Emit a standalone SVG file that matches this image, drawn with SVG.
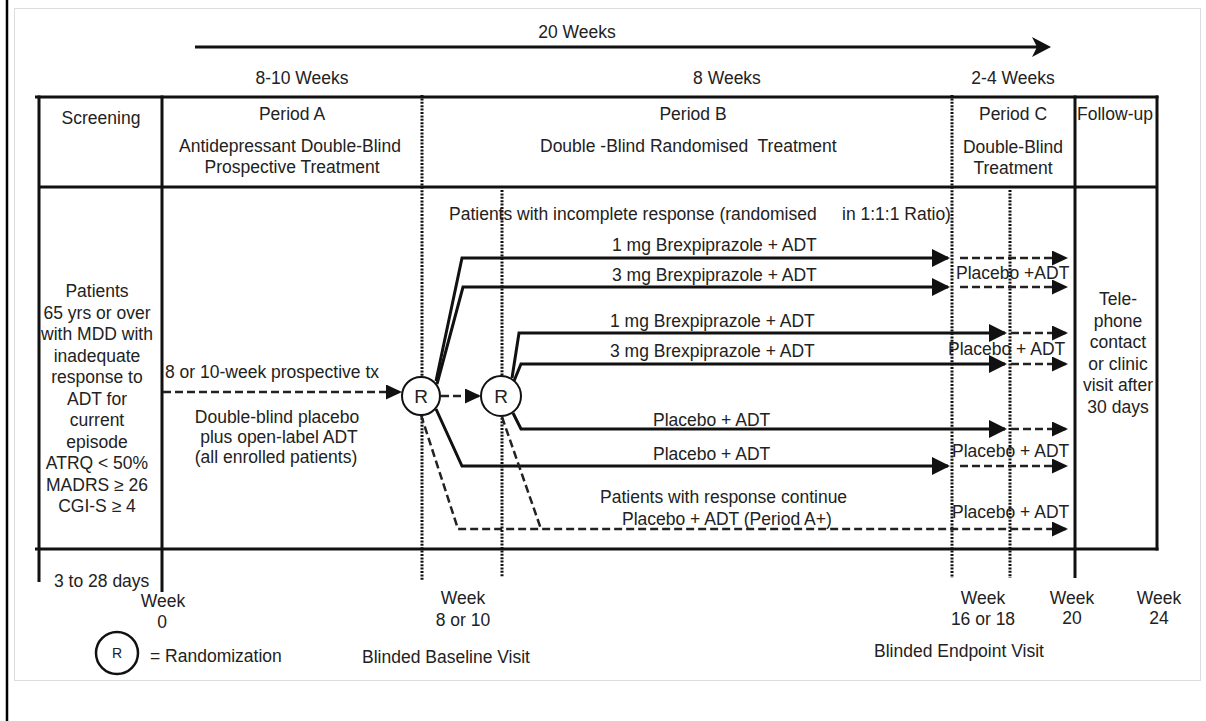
<svg xmlns="http://www.w3.org/2000/svg" width="1206" height="721" viewBox="0 0 1206 721">
<style>
text{font-family:"Liberation Sans",Arial,sans-serif;font-size:17.5px;fill:#222}
.c{text-anchor:middle}
.thick{stroke:#111;stroke-width:3;fill:none}
.dot{stroke:#111;stroke-width:3;stroke-dasharray:2 1.4;fill:none}
.arr{stroke:#111;stroke-width:3;fill:none}
.dash{stroke:#222;stroke-width:2.5;stroke-dasharray:8 4;fill:none}
.rc{fill:#fff;stroke:#111;stroke-width:2}
</style>
<defs>
<marker id="big" markerUnits="userSpaceOnUse" markerWidth="18" markerHeight="18" refX="16" refY="9" orient="auto"><path d="M0,0 L18,9 L0,18 z" fill="#111"/></marker>
<marker id="med" markerUnits="userSpaceOnUse" markerWidth="16" markerHeight="16" refX="14" refY="7.5" orient="auto"><path d="M0,0 L16,7.5 L0,15 z" fill="#111"/></marker>
</defs>
<rect width="1206" height="721" fill="#fff"/>
<rect x="14.5" y="8.5" width="1186" height="672" fill="none" stroke="#ddd"/>
<line x1="7" y1="0" x2="7" y2="721" stroke="#000" stroke-width="2.5"/>

<g id="timeline">
<line class="thick" x1="195" y1="47" x2="1040" y2="47" stroke-width="3.5"/>
<path d="M1032,37 L1051,47 L1032,57 L1037,47 z" fill="#111"/>
<text class="c" x="577" y="38">20 Weeks</text>
<text class="c" x="302" y="84">8-10 Weeks</text>
<text class="c" x="727" y="84">8 Weeks</text>
<text class="c" x="1013" y="84">2-4 Weeks</text>
</g>

<g id="grid">
<line class="thick" x1="35" y1="97" x2="1158.5" y2="97"/>
<line class="thick" x1="39" y1="187" x2="1157" y2="187"/>
<line class="thick" x1="35" y1="549" x2="1158.5" y2="549"/>
<line class="thick" x1="39" y1="95.5" x2="39" y2="582"/>
<line class="thick" x1="162" y1="95.5" x2="162" y2="592"/>
<line class="thick" x1="1075" y1="95.5" x2="1075" y2="578"/>
<line class="thick" x1="1157" y1="95.5" x2="1157" y2="550.5"/>
<line class="dot" x1="422" y1="95" x2="422" y2="580"/>
<line class="dot" x1="502" y1="190" x2="502" y2="577"/>
<line class="dot" x1="952" y1="95" x2="952" y2="578"/>
<line class="dot" x1="1010" y1="190" x2="1010" y2="578"/>
</g>

<g id="connectors">
<polyline class="arr" points="436,381 462,258 948,258" marker-end="url(#big)"/>
<polyline class="arr" points="437,384 463,287 948,287" marker-end="url(#big)"/>
<polyline class="arr" points="512,378 519,333 1005,333" marker-end="url(#big)"/>
<polyline class="arr" points="514,381 521,364 1005,364" marker-end="url(#big)"/>
<polyline class="arr" points="513,413 521,429 1005,429" marker-end="url(#big)"/>
<polyline class="arr" points="436,409 462,466 948,466" marker-end="url(#big)"/>
<line class="dash" x1="163" y1="392" x2="400" y2="392" marker-end="url(#med)"/>
<line class="dash" x1="441" y1="396" x2="479" y2="396" marker-end="url(#med)"/>
<polyline class="dash" points="421,415 458,529 1066,529" marker-end="url(#med)"/>
<polyline class="dash" points="502,417 541,529"/>
<line class="dash" x1="960" y1="258" x2="1066" y2="258" marker-end="url(#med)"/>
<line class="dash" x1="960" y1="287" x2="1066" y2="287" marker-end="url(#med)"/>
<line class="dash" x1="1011" y1="333" x2="1066" y2="333" marker-end="url(#med)"/>
<line class="dash" x1="1011" y1="364" x2="1066" y2="364" marker-end="url(#med)"/>
<line class="dash" x1="1011" y1="429" x2="1066" y2="429" marker-end="url(#med)"/>
<line class="dash" x1="960" y1="466" x2="1066" y2="466" marker-end="url(#med)"/>
</g>

<g id="screening">
<text class="c" x="101" y="124">Screening</text>
<text class="c" x="97" y="297">Patients</text>
<text class="c" x="97" y="318.5">65 yrs or over</text>
<text class="c" x="97" y="340">with MDD with</text>
<text class="c" x="97" y="361.5">inadequate</text>
<text class="c" x="97" y="383">response to</text>
<text class="c" x="97" y="404.5">ADT for</text>
<text class="c" x="97" y="426">current</text>
<text class="c" x="97" y="447.5">episode</text>
<text class="c" x="97" y="469">ATRQ &lt; 50%</text>
<text class="c" x="97" y="490.5">MADRS ≥ 26</text>
<text class="c" x="97" y="512">CGI-S ≥ 4</text>
</g>

<g id="periodA">
<text class="c" x="292" y="120">Period A</text>
<text class="c" x="290" y="152">Antidepressant Double-Blind</text>
<text class="c" x="292" y="173">Prospective Treatment</text>
<text x="165" y="378">8 or 10-week prospective tx</text>
<text class="c" x="277" y="423">Double-blind placebo</text>
<text class="c" x="279" y="443">plus open-label ADT</text>
<text class="c" x="276" y="463">(all enrolled patients)</text>
</g>

<g id="periodB">
<text class="c" x="693" y="120">Period B</text>
<text x="540" y="152" xml:space="preserve">Double -Blind Randomised  Treatment</text>
<text x="449" y="220">Patients with incomplete response (randomised<tspan x="842">in 1:1:1 Ratio)</tspan></text>
<text x="612" y="251">1 mg Brexpiprazole + ADT</text>
<text x="612" y="281">3 mg Brexpiprazole + ADT</text>
<text x="610" y="327">1 mg Brexpiprazole + ADT</text>
<text x="610" y="357">3 mg Brexpiprazole + ADT</text>
<text x="653" y="426">Placebo + ADT</text>
<text x="653" y="460">Placebo + ADT</text>
<text x="600" y="503">Patients with response continue</text>
<text x="622" y="525">Placebo + ADT (Period A+)</text>
</g>

<g id="periodC">
<text class="c" x="1013" y="120">Period C</text>
<text class="c" x="1013" y="153">Double-Blind</text>
<text class="c" x="1013" y="174">Treatment</text>
<text x="956" y="279">Placebo +ADT</text>
<text x="948" y="355">Placebo + ADT</text>
<text x="952" y="457">Placebo + ADT</text>
<text x="952" y="518">Placebo + ADT</text>
</g>

<g id="followup">
<text class="c" x="1115" y="120">Follow-up</text>
<text class="c" x="1118" y="305">Tele-</text>
<text class="c" x="1118" y="326.5">phone</text>
<text class="c" x="1118" y="348">contact</text>
<text class="c" x="1118" y="369.5">or clinic</text>
<text class="c" x="1118" y="391">visit after</text>
<text class="c" x="1118" y="412.5">30 days</text>
</g>

<g id="R1">
<circle class="rc" cx="421" cy="396" r="19"/>
<text class="c" x="421" y="403" style="font-size:19px">R</text>
</g>
<g id="R2">
<circle class="rc" cx="501" cy="396" r="20"/>
<text class="c" x="501" y="403" style="font-size:19px">R</text>
</g>

<g id="week-labels">
<text x="54" y="587">3 to 28 days</text>
<text class="c" x="163" y="607">Week</text>
<text class="c" x="162" y="628">0</text>
<text class="c" x="463" y="604">Week</text>
<text class="c" x="463" y="626">8 or 10</text>
<text class="c" x="983" y="604">Week</text>
<text class="c" x="983" y="625">16 or 18</text>
<text class="c" x="1072" y="604">Week</text>
<text class="c" x="1072" y="624">20</text>
<text class="c" x="1159" y="604">Week</text>
<text class="c" x="1159" y="624">24</text>
<text x="362" y="663">Blinded Baseline Visit</text>
<text x="874" y="657">Blinded Endpoint Visit</text>
</g>

<g id="legend">
<circle cx="117" cy="653" r="21" fill="#fff" stroke="#111" stroke-width="2.5"/>
<text class="c" x="117" y="658" style="font-size:14px">R</text>
<text x="150" y="662">= Randomization</text>
</g>
</svg>
